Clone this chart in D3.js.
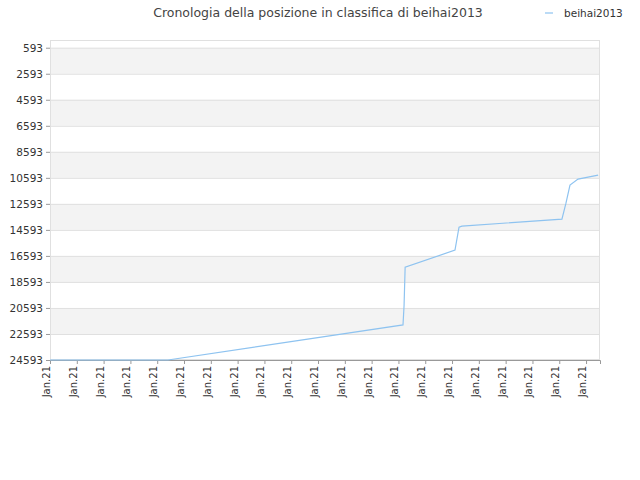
<!DOCTYPE html>
<html><head><meta charset="utf-8">
<script src="https://cdn.jsdelivr.net/npm/d3@7"></script>
<style>body{margin:0;background:#fff}text{font-family:"DejaVu Sans",sans-serif}</style>
</head><body><svg id="c" width="640" height="480"></svg>
<script>
const title = "Cronologia della posizione in classifica di beihai2013";
const seriesName = "beihai2013";
const yTicks = [593,2593,4593,6593,8593,10593,12593,14593,16593,18593,20593,22593,24593];
const xTickLabels = Array.from({length:21},()=> "Jan.21");
const xs = [0,4.40,13.17,13.21,13.25,15.11,15.26,15.37,19.10,19.25,19.40,19.70,20.45];
const ys = [24593,24593,21900,20400,17460,16150,14380,14300,13770,12540,11150,10690,10380];

const svg = d3.select("#c");
const L=50,R=600,T=40,B=360;
const x = d3.scaleLinear().domain([0,20.52]).range([L,R]);
const y = d3.scaleLinear().domain([0,24593]).range([T,B]);
svg.append("rect").attr("x",L).attr("y",T).attr("width",R-L).attr("height",B-T).attr("fill","#fff");
for(let i=0;i<yTicks.length-1;i++){
  if(i%2===0) svg.append("rect").attr("x",L).attr("y",y(yTicks[i])).attr("width",R-L)
    .attr("height",y(yTicks[i+1])-y(yTicks[i])).attr("fill","#f3f3f3");
}
svg.selectAll("line.g").data(yTicks).join("line").attr("x1",L).attr("x2",R)
  .attr("y1",d=>y(d)+0.5).attr("y2",d=>y(d)+0.5).attr("stroke","#e0e0e0");
svg.append("rect").attr("x",L+0.5).attr("y",T+0.5).attr("width",R-L-1).attr("height",B-T-1)
  .attr("fill","none").attr("stroke","#e0e0e0");
const ya = svg.append("g").attr("transform",`translate(${L},0)`).call(d3.axisLeft(y).tickValues(yTicks).tickSize(4).tickFormat(d=>d));
ya.select(".domain").remove();
ya.selectAll("line").attr("stroke","#999");
ya.selectAll("text").attr("font-size",10.5).attr("fill","#333");
const xa = svg.append("g").attr("transform",`translate(0,${B})`).call(d3.axisBottom(x).tickValues(d3.range(21)).tickSize(4).tickFormat(i=>xTickLabels[i]));
xa.select(".domain").attr("stroke","#999");
xa.selectAll("line").attr("stroke","#999");
xa.selectAll("text").attr("font-size",10).attr("fill","#333").attr("text-anchor","end")
  .attr("transform","rotate(-90)").attr("x",-6).attr("y",-4).attr("dy","0.35em");
svg.append("path").datum(xs.map((v,i)=>[v,ys[i]])).attr("fill","none").attr("stroke","#8ec3f0")
  .attr("stroke-width",1.2).attr("d",d3.line().x(d=>x(d[0])).y(d=>y(d[1])));
svg.append("text").attr("x",318).attr("y",17).attr("text-anchor","middle").attr("font-size",12.5).attr("fill","#444").text(title);
svg.append("line").attr("x1",545).attr("x2",553).attr("y1",13).attr("y2",13).attr("stroke","#8ec3f0").attr("stroke-width",1.2);
svg.append("text").attr("x",564).attr("y",17).attr("font-size",10.5).attr("fill","#333").text(seriesName);
</script></body></html>
